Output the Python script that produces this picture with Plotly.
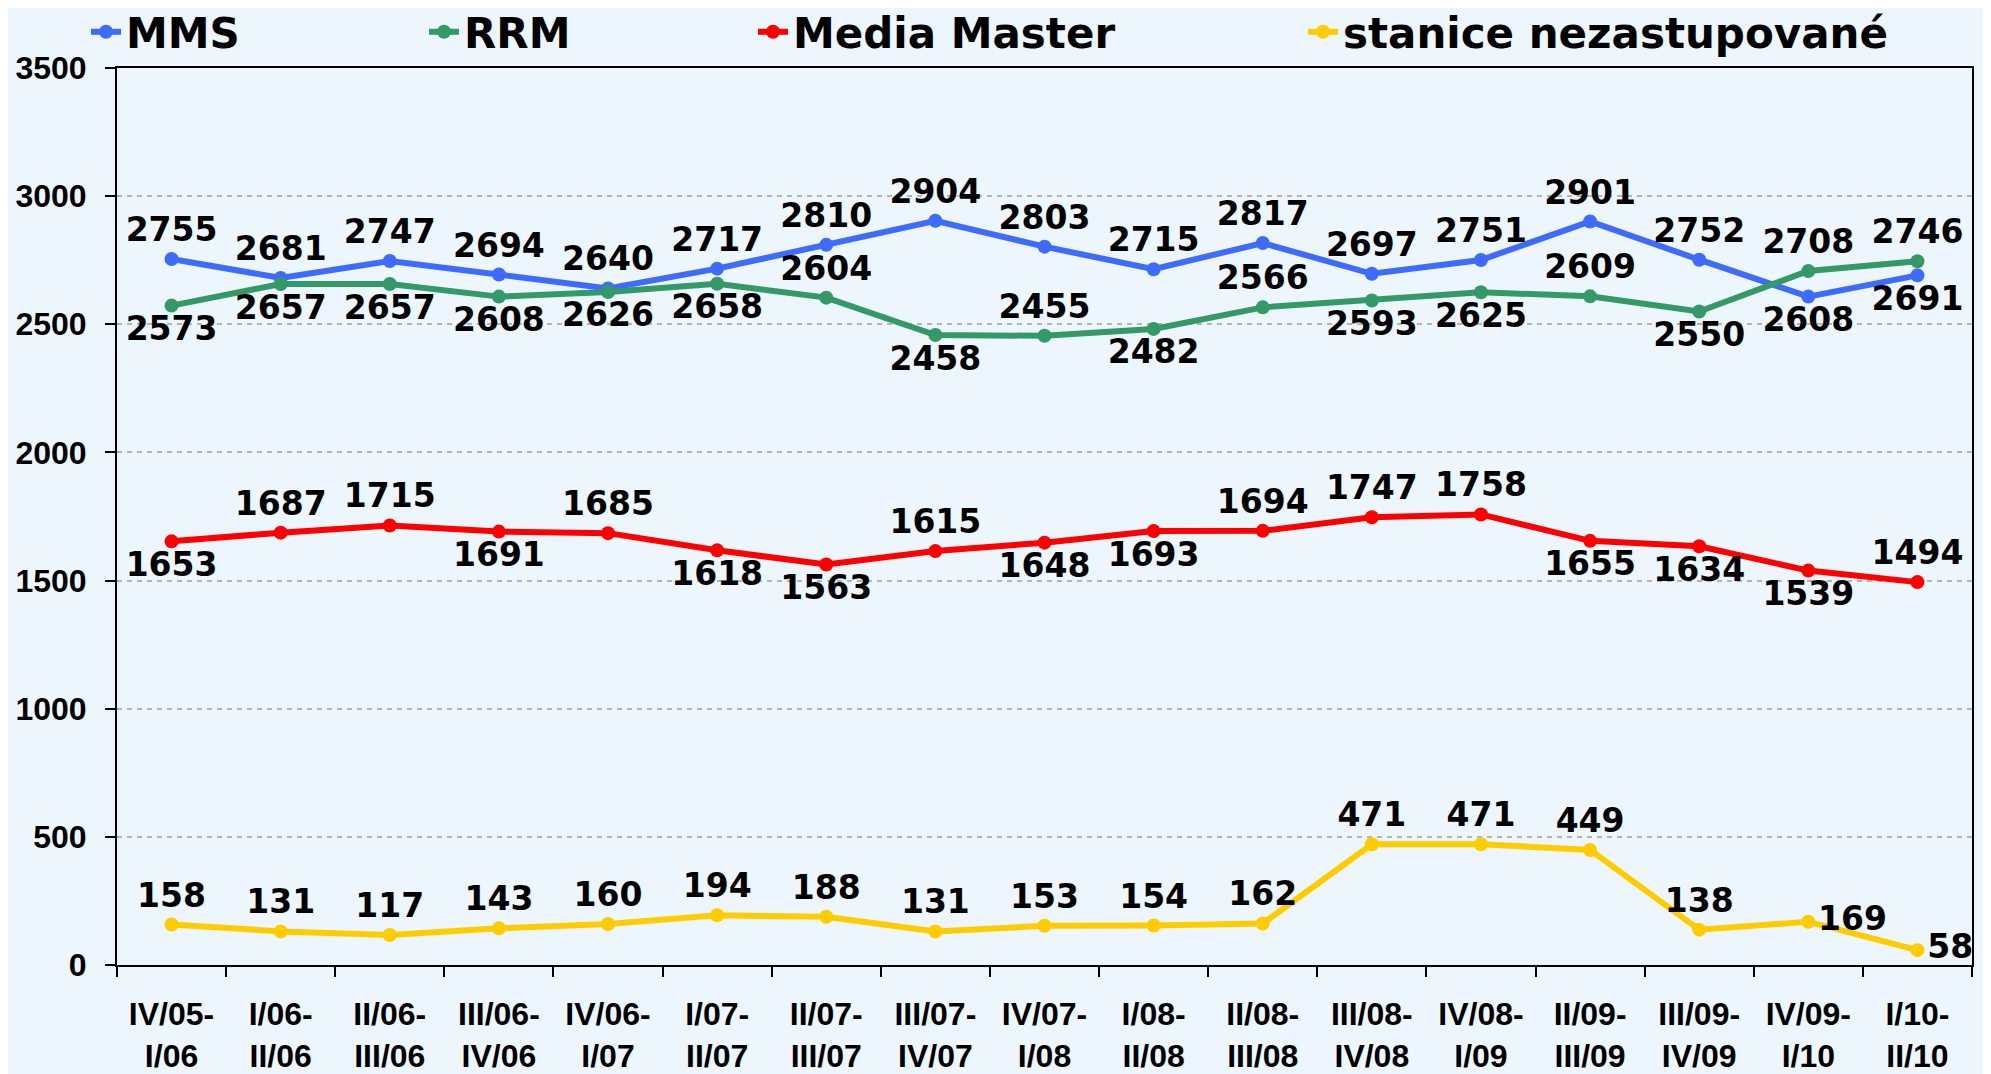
import plotly.graph_objects as go

categories = [
    "IV/05-<br>I/06", "I/06-<br>II/06", "II/06-<br>III/06", "III/06-<br>IV/06",
    "IV/06-<br>I/07", "I/07-<br>II/07", "II/07-<br>III/07", "III/07-<br>IV/07",
    "IV/07-<br>I/08", "I/08-<br>II/08", "II/08-<br>III/08", "III/08-<br>IV/08",
    "IV/08-<br>I/09", "II/09-<br>III/09", "III/09-<br>IV/09", "IV/09-<br>I/10",
    "I/10-<br>II/10",
]

mms = [2755, 2681, 2747, 2694, 2640, 2717, 2810, 2904, 2803, 2715, 2817, 2697, 2751, 2901, 2752, 2608, 2691]
rrm = [2573, 2657, 2657, 2608, 2626, 2658, 2604, 2458, 2455, 2482, 2566, 2593, 2625, 2609, 2550, 2708, 2746]
media_master = [1653, 1687, 1715, 1691, 1685, 1618, 1563, 1615, 1648, 1693, 1694, 1747, 1758, 1655, 1634, 1539, 1494]
stanice = [158, 131, 117, 143, 160, 194, 188, 131, 153, 154, 162, 471, 471, 449, 138, 169, 58]

series_names = ["MMS", "RRM", "Media Master", "stanice nezastupované"]
y_ticks = [0, 500, 1000, 1500, 2000, 2500, 3000, 3500]

T, B, R = "top center", "bottom center", "middle right"
pos_mms = [T] * 15 + [B, B]
pos_rrm = [B, B, B, B, B, B, T, B, T, B, T, B, B, T, B, T, T]
pos_mm = [B, T, T, B, T, B, B, T, B, B, T, T, T, B, B, B, T]
pos_st = [T] * 15 + [R, R]

colors = ["#3d6bff", "#339966", "#ff0000", "#ffcc00"]
values = [mms, rrm, media_master, stanice]
positions = [pos_mms, pos_rrm, pos_mm, pos_st]
legend_ids = ["legend", "legend2", "legend3", "legend4"]

label_font = dict(family="DejaVu Sans", size=33, color="black", weight="bold")
tick_font = dict(family="Liberation Sans, Arial", size=32, color="black", weight="bold")
legend_font = dict(family="DejaVu Sans", size=42, color="black", weight="bold")

fig = go.Figure()
for name, vals, col, pos, lg in zip(series_names, values, colors, positions, legend_ids):
    fig.add_trace(go.Scatter(
        x=categories, y=vals, name=name, mode="lines+markers+text",
        line=dict(color=col, width=6), marker=dict(color=col, size=14),
        text=[str(v) for v in vals], textposition=pos, textfont=label_font,
        cliponaxis=False, legend=lg,
    ))

W, H = 1991, 1074
L, Rm, Tm, Bm = 109, 27, 60, 117
pw = W - L - Rm
ph = H - Tm - Bm

def lx(px):
    return (px - L) / pw

ly = 1 + (Tm - 24) / ph
legend_text_starts = [127, 465, 794, 1344]
common_legend = dict(orientation="h", xanchor="left", yanchor="middle", y=ly,
                     font=legend_font, bgcolor="rgba(0,0,0,0)", borderwidth=0)

fig.update_layout(
    width=W, height=H,
    margin=dict(l=L, r=Rm, t=Tm, b=Bm, autoexpand=False),
    paper_bgcolor="#eef6fd", plot_bgcolor="#eef6fd",
    showlegend=True,
    legend=dict(x=lx(legend_text_starts[0] - 49), **common_legend),
    legend2=dict(x=lx(legend_text_starts[1] - 49), **common_legend),
    legend3=dict(x=lx(legend_text_starts[2] - 49), **common_legend),
    legend4=dict(x=lx(legend_text_starts[3] - 49), **common_legend),
    xaxis=dict(
        type="category", range=[-0.5, len(categories) - 0.5],
        tickson="boundaries", ticks="outside", ticklen=10, tickwidth=2, tickcolor="black",
        showline=True, linecolor="black", linewidth=2, mirror=True,
        showgrid=False, tickfont=tick_font, ticklabelstandoff=20,
    ),
    yaxis=dict(
        range=[0, 3500], tickvals=y_ticks, ticks="outside", ticklen=10, tickwidth=2,
        tickcolor="black", showline=True, linecolor="black", linewidth=2, mirror=True,
        showgrid=True, gridcolor="#b4b4b4", gridwidth=2, griddash="5px,5px",
        zeroline=False, tickfont=tick_font, ticklabelstandoff=12,
    ),
)

fig.write_html("out.html")
